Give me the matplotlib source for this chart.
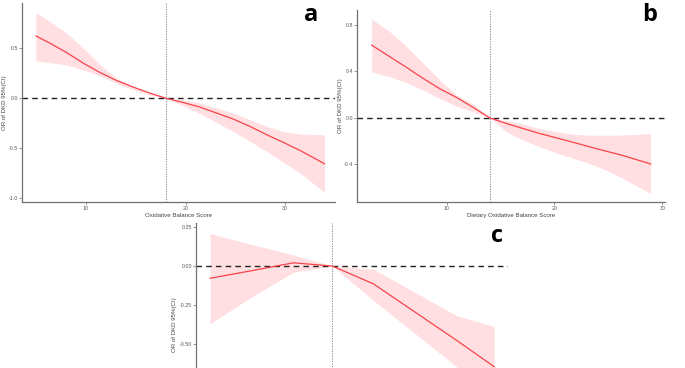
import matplotlib.pyplot as plt

# ---- panel a: Oxidative Balance Score ----
A_X = [4.97, 6.38, 8.06, 9.73, 11.41, 13.08, 14.76, 16.43, 18.0,
       19.78, 21.46, 23.13, 24.8, 26.48, 28.16, 29.83, 31.5, 33.95]
A_OR = [0.623, 0.550, 0.456, 0.35, 0.256, 0.176, 0.11, 0.05, 0.0,
        -0.044, -0.09, -0.15, -0.21, -0.284, -0.367, -0.444, -0.524, -0.657]
A_HI = [0.856, 0.766, 0.65, 0.5, 0.333, 0.2, 0.116, 0.05, 0.0,
        -0.017, -0.05, -0.1, -0.15, -0.217, -0.284, -0.334, -0.36, -0.367]
A_LO = [0.373, 0.356, 0.333, 0.283, 0.223, 0.15, 0.083, 0.033, 0.0,
        -0.077, -0.157, -0.244, -0.334, -0.434, -0.534, -0.644, -0.75, -0.944]
A_REF = 18.0
A_XTICKS = [10, 20, 30]
A_YTICKS = [0.5, 0.0, -0.5, -1.0]
A_YLABELS = ["0.5", "0.0", "-0.5", "-1.0"]

# ---- panel b: Dietary Oxidative Balance Score ----
B_X = [3.04, 4.74, 6.29, 7.83, 9.38, 10.93, 12.47, 13.99, 15.57,
       17.11, 18.65, 20.2, 21.74, 23.29, 24.84, 26.38, 28.92]
B_OR = [0.627, 0.526, 0.434, 0.339, 0.25, 0.175, 0.089, 0.0, -0.05,
        -0.093, -0.136, -0.173, -0.211, -0.251, -0.289, -0.326, -0.398]
B_HI = [0.852, 0.742, 0.613, 0.469, 0.325, 0.195, 0.118, 0.0, -0.026,
        -0.055, -0.093, -0.121, -0.142, -0.15, -0.15, -0.148, -0.136]
B_LO = [0.397, 0.354, 0.302, 0.238, 0.166, 0.1, 0.051, 0.0, -0.122,
        -0.193, -0.251, -0.303, -0.349, -0.395, -0.453, -0.525, -0.654]
B_REF = 14.0
B_XTICKS = [10, 20, 30]
B_YTICKS = [0.8, 0.4, 0.0, -0.4]
B_YLABELS = ["0.8", "0.4", "0.0", "-0.4"]

# ---- panel c (x axis cut off in the source image) ----
C_X = [0.92, 2.3, 3.7, 5.0, 6.37, 9.15, 10.4]
C_OR = [-0.079, -0.03, 0.021, 0.0, -0.115, -0.48, -0.65]
C_HI = [0.21, 0.14, 0.072, 0.0, -0.02, -0.32, -0.39]
C_LO = [-0.372, -0.2, -0.04, 0.0, -0.222, -0.65, -0.90]
C_REF = 5.0
C_YTICKS = [0.25, 0.0, -0.25, -0.50]
C_YLABELS = ["0.25", "0.00", "-0.25", "-0.50"]

W, H = 685, 368
LINE = "#f8434a"
FILL = "#ffdfe1"
AXC = "#707070"

plt.rcParams.update({"font.family": ["Liberation Sans", "DejaVu Sans"]})
fig = plt.figure(figsize=(W / 100, H / 100), dpi=100)


def px_axes(l, t, r, b):
    return fig.add_axes([l / W, 1 - b / H, (r - l) / W, (b - t) / H])


def draw(ax, x, orv, hi, lo, ref, xlim, ylim, yticks, ylabels, xticks,
         xlabel, letter, lpos, ylab_xy):
    ax.fill_between(x, lo, hi, color=FILL, lw=0, zorder=1)
    ax.plot(x, orv, color=LINE, lw=0.9, zorder=3)
    ax.axhline(0, color="#222222", lw=1.0, ls=(0, (4, 3)), zorder=2)
    ax.axvline(ref, color="#777777", lw=0.6, ls=(0, (1.5, 1.5)), zorder=2)
    ax.set_xlim(*xlim)
    ax.set_ylim(*ylim)
    ax.set_yticks(yticks)
    ax.set_yticklabels(ylabels)
    ax.set_xticks(xticks)
    for s in ("top", "right"):
        ax.spines[s].set_visible(False)
    for s in ("left", "bottom"):
        ax.spines[s].set_color(AXC)
        ax.spines[s].set_linewidth(0.9)
    ax.tick_params(length=2, width=0.5, color=AXC, labelsize=3.8,
                   labelcolor="#555555", pad=1)
    ax.set_ylabel("OR of DKD 95%(CI)", fontsize=4.4, color="#444444")
    ax.yaxis.set_label_coords(*ylab_xy)
    ax.set_xlabel(xlabel, fontsize=4.4, color="#444444", labelpad=1.5)
    fig.text(lpos[0] / W, 1 - lpos[1] / H, letter, fontsize=17,
             fontweight="bold", family="Open Sans", ha="center", va="center")


ax_a = px_axes(22, 3, 335, 202)
draw(ax_a, A_X, A_OR, A_HI, A_LO, A_REF, (3.57, 35.0), (-1.04, 0.953),
     A_YTICKS, A_YLABELS, A_XTICKS, "Oxidative Balance Score", "a",
     (311, 15), (-0.048, 0.5))

ax_b = px_axes(357, 10, 665, 202)
draw(ax_b, B_X, B_OR, B_HI, B_LO, B_REF, (1.68, 30.25), (-0.726, 0.93),
     B_YTICKS, B_YLABELS, B_XTICKS, "Dietary Oxidative Balance Score", "b",
     (650, 15), (-0.045, 0.5))

ax_c = px_axes(196, 223, 508, 390)
draw(ax_c, C_X, C_OR, C_HI, C_LO, C_REF, (0.45, 10.86), (-0.80, 0.278),
     C_YTICKS, C_YLABELS, [], "", "c", (497, 236), (-0.061, 0.39))

fig.savefig("out.png", dpi=100)
